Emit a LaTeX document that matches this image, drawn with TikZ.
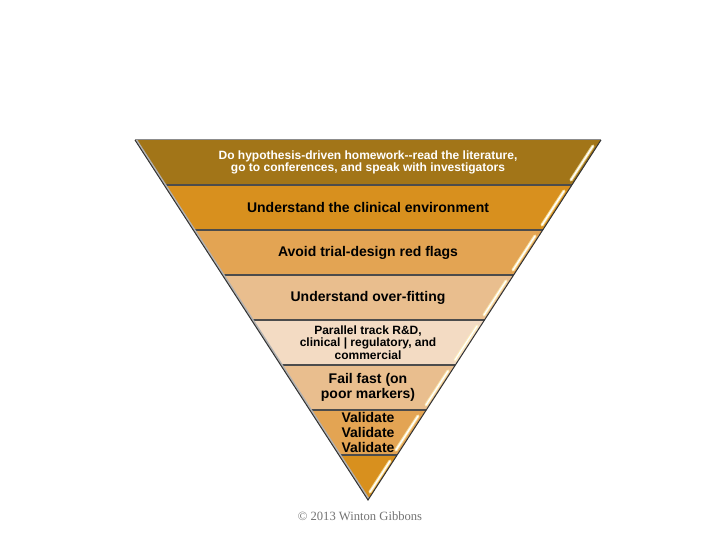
\documentclass[tikz,border=0pt]{standalone}
\usepackage{fontspec}
\setmainfont{Liberation Serif}
\setsansfont{Liberation Sans}
\definecolor{bandA}{HTML}{A27518}
\definecolor{bandB}{HTML}{D8901E}
\definecolor{bandC}{HTML}{E3A453}
\definecolor{bandD}{HTML}{E9BE8E}
\definecolor{bandE}{HTML}{F3DBC3}
\definecolor{glow}{HTML}{FFF3B8}
\begin{document}
\begin{tikzpicture}[x=1pt,y=-1pt,
    bandtext/.style={font=\sffamily\bfseries\fontsize{14}{14.6}\selectfont,align=center,inner sep=0pt},
    smalltext/.style={font=\sffamily\bfseries\fontsize{12}{12.4}\selectfont},
    divider/.style={draw=black!70,line width=1.3pt},
    glowline/.style={glow,line width=3.2pt,line cap=round,opacity=.75},
    glossline/.style={white,line width=1.3pt,line cap=round}]
    \useasboundingbox (0,0) rectangle (720,540);
    \begin{scope}
        \clip (135,140) -- (601,140) -- (368,500) -- cycle;
        \fill[bandA] (135,140) rectangle (601,185);
        \fill[bandB] (135,185) rectangle (601,230);
        \fill[bandC] (135,230) rectangle (601,275);
        \fill[bandD] (135,275) rectangle (601,320);
        \fill[bandE] (135,320) rectangle (601,365);
        \fill[bandD] (135,365) rectangle (601,410);
        \fill[bandC] (135,410) rectangle (601,455);
        \fill[bandB] (135,455) rectangle (601,500);
        \draw[divider] (135,185) -- (601,185);
        \draw[divider] (135,230) -- (601,230);
        \draw[divider] (135,275) -- (601,275);
        \draw[divider] (135,320) -- (601,320);
        \draw[divider] (135,365) -- (601,365);
        \draw[divider] (135,410) -- (601,410);
        \draw[divider] (135,455) -- (601,455);
        \draw[black!30,line width=4pt] (135,140) -- (368,500);
    \end{scope}
    \draw[black!80,line width=1pt] (135,140) -- (368,500) -- (601,140);
    \draw[black!45,line width=1pt] (135,140) -- (601,140);
    % gloss on the right side of each band
    \draw[glowline] (571,180) -- (593,146);
    \draw[glossline] (571,180) -- (593,146);
    \draw[glowline] (542,225) -- (564,191);
    \draw[glossline] (542,225) -- (564,191);
    \draw[glowline] (513,270) -- (535,236);
    \draw[glossline] (513,270) -- (535,236);
    \draw[glowline] (484,315) -- (506,281);
    \draw[glossline] (484,315) -- (506,281);
    \draw[glowline] (455,360) -- (477,326);
    \draw[glossline] (455,360) -- (477,326);
    \draw[glowline] (426,405) -- (448,371);
    \draw[glossline] (426,405) -- (448,371);
    \draw[glowline] (396,450) -- (418,416);
    \draw[glossline] (396,450) -- (418,416);
    \draw[glowline] (370,492) -- (390,461);
    \draw[glossline] (370,492) -- (390,461);
    % texts
    \node[bandtext,smalltext,text=white] (homework) at (368,162.5)
        {Do hypothesis-driven homework-{}-read the literature,\\go to conferences, and speak with investigators};
    \node[bandtext] (clinical) at (368,207.5) {Understand the clinical environment};
    \node[bandtext] (redflags) at (368,252.5) {Avoid trial-design red flags};
    \node[bandtext] (overfit) at (368,297.5) {Understand over-fitting};
    \node[bandtext,smalltext] (parallel) at (368,342.5)
        {Parallel track R\&D,\\clinical | regulatory, and\\commercial};
    \node[bandtext] (failfast) at (368,387.5) {Fail fast (on\\poor markers)};
    \node[bandtext] (validate) at (368,432.5) {Validate\\Validate\\Validate};
    \node[font=\fontsize{12.6}{12.6}\selectfont,text=black!55] (copyright) at (360,516)
        {\textcopyright{} 2013 Winton Gibbons};
\end{tikzpicture}
\end{document}
